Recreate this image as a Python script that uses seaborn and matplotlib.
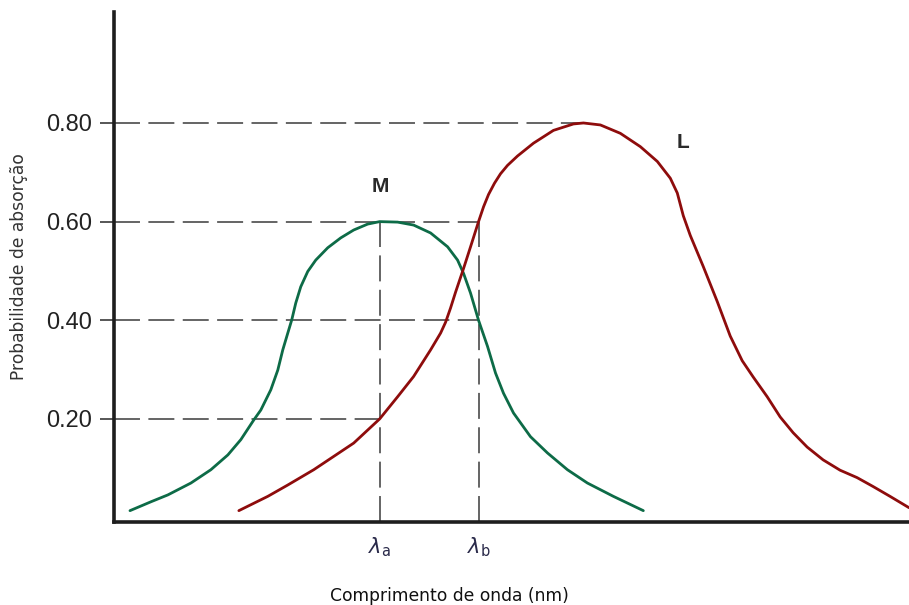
import matplotlib
matplotlib.use("Agg")
import matplotlib.pyplot as plt
import seaborn as sns
import pandas as pd

# Absorption spectra of the M and L cone pigments (arbitrary wavelength units)
m_wavelength = [129, 150, 167, 190, 210, 227, 240, 253, 260, 270, 277, 282, 287, 291,
                295, 300, 307, 315, 327, 340, 353, 367, 379, 397, 413, 430, 447, 457,
                463, 470, 478, 487, 495, 503, 513, 530, 547, 567, 587, 613, 643]
m_absorption = [0.014, 0.032, 0.046, 0.070, 0.097, 0.127, 0.158, 0.198, 0.218, 0.259,
                0.299, 0.340, 0.374, 0.401, 0.435, 0.468, 0.499, 0.522, 0.547, 0.567,
                0.583, 0.595, 0.600, 0.599, 0.593, 0.577, 0.549, 0.522, 0.495, 0.455,
                0.400, 0.347, 0.293, 0.252, 0.212, 0.164, 0.131, 0.097, 0.070, 0.043,
                0.014]

l_wavelength = [238, 267, 287, 313, 333, 353, 379, 397, 413, 430, 440, 445, 450, 455,
                463, 470, 478, 483, 488, 494, 500, 507, 517, 533, 553, 573, 583, 600,
                620, 640, 657, 670, 677, 683, 690, 703, 717, 730, 742, 753, 767, 780,
                793, 807, 823, 840, 857, 873, 890, 909]
l_absorption = [0.014, 0.043, 0.066, 0.097, 0.124, 0.151, 0.200, 0.245, 0.286, 0.340,
                0.374, 0.396, 0.425, 0.457, 0.505, 0.549, 0.600, 0.630, 0.655, 0.678,
                0.697, 0.714, 0.733, 0.759, 0.785, 0.798, 0.800, 0.796, 0.779, 0.752,
                0.722, 0.688, 0.658, 0.612, 0.572, 0.509, 0.438, 0.368, 0.318, 0.285,
                0.245, 0.204, 0.172, 0.143, 0.117, 0.096, 0.081, 0.063, 0.043, 0.020]

# Reference wavelengths marked on the axis
lambda_positions = [379, 478]
lambda_labels = [r"$\lambda_\mathregular{a}$", r"$\lambda_\mathregular{b}$"]

y_ticks = [0.20, 0.40, 0.60, 0.80]
y_tick_labels = ["0.20", "0.40", "0.60", "0.80"]

# Guide lines: (y value, x end) for horizontals and (x, y top) for verticals
guide_h = [(0.80, 583), (0.60, 478), (0.40, 478), (0.20, 379)]
guide_v = [(379, 0.60), (478, 0.60)]

spectra = pd.concat([
    pd.DataFrame({"comprimento": m_wavelength, "absorcao": m_absorption, "cone": "M"}),
    pd.DataFrame({"comprimento": l_wavelength, "absorcao": l_absorption, "cone": "L"}),
])

sns.set_theme(style="white")
plt.rcParams["font.family"] = ["DejaVu Sans"]

fig = plt.figure(figsize=(9.09, 6.05), dpi=100)
ax = fig.add_axes([114 / 909, (605 - 522) / 605, 1 - 114 / 909, (522 - 12) / 605])

x_left = 113
ax.set_xlim(x_left, 909)
ax.set_ylim(-0.009, 1.025)

dash_kw = dict(color="#3a3a3a", linewidth=1.1, dashes=(17, 5.5), zorder=1)
for yv, xe in guide_h:
    ax.plot([x_left, xe], [yv, yv], **dash_kw)
for xv, yt in guide_v:
    ax.plot([xv, xv], [-0.01, yt], **dash_kw)

sns.lineplot(data=spectra, x="comprimento", y="absorcao", hue="cone",
             palette={"M": "#0d6b47", "L": "#8e0c0c"}, linewidth=2.0,
             sort=False, estimator=None, legend=False, ax=ax, zorder=3)
for line in ax.get_lines():
    line.set_solid_joinstyle("round")
    line.set_solid_capstyle("round")

ax.text(380, 0.672, "M", fontsize=15, fontweight="bold", ha="center", va="center",
        family="Liberation Sans", color="#2a2a2a")
ax.text(683, 0.761, "L", fontsize=15, fontweight="bold", ha="center", va="center",
        family="Liberation Sans", color="#2a2a2a")

ax.set_yticks(y_ticks)
ax.set_yticklabels(y_tick_labels, fontsize=17, family="Liberation Sans", color="#222222")
ax.set_xticks(lambda_positions)
ax.set_xticklabels(lambda_labels, fontsize=15, color="#2a2a4a")
ax.tick_params(axis="y", length=10, width=1.2, color="#3a3a3a", pad=6, left=True)
ax.tick_params(axis="x", length=0, pad=10)

ax.set_xlabel("Comprimento de onda (nm)", fontsize=12.3, color="#111111")
ax.xaxis.set_label_coords((449 - 114) / 795, -0.128)
ax.set_ylabel("Probabilidade de absorção", fontsize=12.3, color="#333333")
ax.yaxis.set_label_coords((28 - 114) / 795, 0.5)

for side in ["top", "right"]:
    ax.spines[side].set_visible(False)
for side in ["left", "bottom"]:
    ax.spines[side].set_linewidth(2.6)
    ax.spines[side].set_color("#1e1e1e")

fig.savefig("out.png", dpi=100)
